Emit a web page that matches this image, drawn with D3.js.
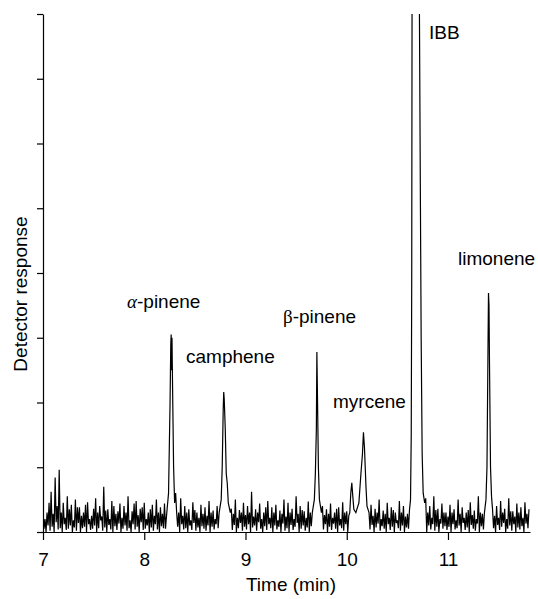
<!DOCTYPE html>
<html>
<head>
<meta charset="utf-8">
<script src="https://cdn.jsdelivr.net/npm/d3@7"></script>
<style>
  body { margin: 0; background: #fff; }
  text { font-family: "Liberation Sans", Arial, sans-serif; fill: #000; }
</style>
</head>
<body>
<div id="chart"></div>
<script>
// baseline noise tops, sampled every 0.02 min from 7.00 min
var noiseStart = 7.0;
var noiseStep = 0.02;
var noise = [
  0.35,0.20,0.30,0.45,0.62,0.28,0.84,0.40,0.96,0.30,0.45,0.22,0.55,0.35,0.42,0.18,0.50,0.38,0.38,0.25,
  0.30,0.42,0.46,0.20,0.25,0.36,0.52,0.30,0.40,0.24,0.70,0.33,0.35,0.20,0.48,0.40,0.28,0.32,0.44,0.22,
  0.40,0.30,0.55,0.18,0.32,0.44,0.48,0.26,0.36,0.38,0.45,0.20,0.30,0.35,0.42,0.25,0.50,0.30,0.38,0.28,
  0.44,0.12,0.30,0.30,0.30,0.30,0.30,0.30,0.52,0.25,0.40,0.30,0.35,0.18,0.46,0.34,0.30,0.22,0.42,0.28,
  0.38,0.25,0.48,0.30,0.33,0.20,0.40,0.30,0.30,0.30,0.30,0.30,0.30,0.36,0.28,0.50,0.22,0.34,0.30,0.45,
  0.26,0.40,0.30,0.62,0.24,0.35,0.30,0.44,0.20,0.30,0.38,0.48,0.22,0.38,0.30,0.42,0.18,0.33,0.28,0.50,
  0.24,0.45,0.30,0.36,0.20,0.55,0.28,0.40,0.34,0.32,0.22,0.47,0.30,0.30,0.30,0.30,0.30,0.30,0.40,0.26,
  0.35,0.28,0.44,0.22,0.30,0.36,0.38,0.20,0.46,0.30,0.32,0.25,0.30,0.30,0.30,0.30,0.30,0.30,0.30,0.30,
  0.30,0.30,0.42,0.25,0.36,0.30,0.50,0.20,0.33,0.28,0.45,0.22,0.38,0.34,0.30,0.18,0.48,0.30,0.40,0.24,
  0.28,0.30,0.30,0.30,0.30,0.30,0.30,0.30,0.30,0.52,0.30,0.40,0.22,0.55,0.34,0.36,0.20,0.44,0.30,0.30,
  0.24,0.42,0.30,0.35,0.18,0.50,0.28,0.38,0.22,0.30,0.34,0.46,0.26,0.33,0.20,0.55,0.30,0.28,0.30,0.30,
  0.30,0.30,0.30,0.25,0.40,0.22,0.48,0.30,0.36,0.20,0.52,0.32,0.32,0.24,0.44,0.30,0.38,0.22,0.46,0.28,
  0.35
];
// troughs in between, every 0.02 min from 7.01 min
var noiseMidStart = 7.01;
var noiseMid = [
  0.05,0.00,0.10,0.02,0.08,0.00,0.15,0.04,0.06,0.00,0.12,0.03,0.05,0.10,0.00,0.07,0.02,0.14,0.00,0.06,
  0.08,0.00,0.12,0.03,0.05,0.10,0.00,0.06,0.18,0.02,0.07,0.00,0.11,0.04,0.00,0.09,0.03,0.13,0.00,0.05,
  0.10,0.02,0.06,0.00,0.12,0.04,0.08,0.00,0.15,0.03,0.05,0.10,0.00,0.07,0.02,0.12,0.04,0.00,0.09,0.06,
  0.05,0.10,0.10,0.10,0.10,0.10,0.08,0.00,0.12,0.04,0.06,0.00,0.10,0.03,0.14,0.02,0.07,0.00,0.09,0.05,
  0.02,0.10,0.00,0.08,0.04,0.12,0.06,0.10,0.10,0.10,0.10,0.10,0.10,0.03,0.11,0.00,0.06,0.14,0.02,0.08,
  0.04,0.12,0.00,0.07,0.10,0.02,0.15,0.05,0.00,0.09,0.03,0.12,0.06,0.00,0.10,0.04,0.08,0.00,0.13,0.02,
  0.06,0.00,0.11,0.03,0.08,0.14,0.00,0.05,0.10,0.02,0.07,0.00,0.09,0.10,0.10,0.10,0.10,0.10,0.04,0.12,
  0.00,0.08,0.03,0.13,0.05,0.00,0.10,0.06,0.02,0.12,0.00,0.10,0.10,0.10,0.10,0.10,0.10,0.10,0.10,0.10,
  0.10,0.04,0.11,0.00,0.07,0.13,0.02,0.09,0.05,0.00,0.12,0.03,0.08,0.00,0.14,0.06,0.02,0.10,0.00,0.07,
  0.05,0.10,0.10,0.10,0.10,0.10,0.10,0.10,0.10,0.00,0.10,0.04,0.12,0.02,0.08,0.00,0.13,0.05,0.09,0.03,
  0.08,0.00,0.12,0.04,0.06,0.10,0.00,0.14,0.03,0.07,0.00,0.11,0.05,0.02,0.13,0.00,0.09,0.04,0.10,0.10,
  0.10,0.10,0.06,0.00,0.11,0.03,0.08,0.14,0.00,0.05,0.10,0.02,0.12,0.00,0.07,0.04,0.09,0.00,0.13,0.06
];

// peaks as [time (min), response]
var alphaPinene = [[8.22,0.25],[8.24,0.6],[8.255,2.0],[8.262,2.9],[8.266,3.05],[8.27,2.5],[8.274,3.0],[8.28,2.2],[8.29,1.0],[8.30,0.45],[8.31,0.6],[8.32,0.3]];
var camphene = [[8.74,0.3],[8.76,0.5],[8.77,1.0],[8.78,1.9],[8.785,2.16],[8.79,2.05],[8.80,1.6],[8.81,0.9],[8.82,0.75],[8.83,0.45],[8.85,0.3]];
var betaPinene = [[9.66,0.3],[9.68,0.5],[9.69,0.9],[9.70,1.6],[9.705,2.78],[9.71,2.2],[9.72,1.0],[9.73,0.5],[9.75,0.3]];
var myrcene = [[10.03,0.3],[10.04,0.6],[10.05,0.76],[10.06,0.55],[10.07,0.35],[10.09,0.3],[10.12,0.45],[10.14,0.9],[10.155,1.2],[10.165,1.54],[10.175,1.3],[10.19,0.7],[10.20,0.4],[10.22,0.3]];
var ibb = [[10.62,0.35],[10.63,0.5],[10.637,1.5],[10.642,4],[10.645,8],[10.65,14],[10.68,60],[10.71,14],[10.718,8],[10.728,5],[10.735,3],[10.745,1.2],[10.755,0.6],[10.77,0.45]];
var limonene = [[11.36,0.3],[11.375,0.5],[11.385,1.0],[11.395,2.8],[11.40,3.69],[11.405,3.5],[11.41,2.6],[11.42,1.0],[11.43,0.55],[11.44,0.35]];

var peaks = [alphaPinene, camphene, betaPinene, myrcene, ibb, limonene];

var labels = [
  {name: "pinene", greek: "\u03b1", x: 127, y: 308, italic: true},
  {name: "camphene", x: 186, y: 363},
  {name: "pinene", greek: "\u03b2", x: 283, y: 323},
  {name: "myrcene", x: 333, y: 408},
  {name: "IBB", x: 429, y: 39},
  {name: "limonene", x: 458, y: 265}
];

var xTicks = [7, 8, 9, 10, 11];
var yTicks = [0, 1, 2, 3, 4, 5, 6, 7, 8];

var W = 538, H = 599;
var mLeft = 43, mRight = 530, mTop = 14, mBottom = 532;

var x = d3.scaleLinear().domain([7, 11.81]).range([mLeft, mRight]);
var y = d3.scaleLinear().domain([0, 8]).range([mBottom, mTop]);

// merge noise with peaks, peaks replace the noise within their window
var series = noise.map(function (v, i) { return [noiseStart + i * noiseStep, v]; })
  .concat(noiseMid.map(function (v, i) { return [noiseMidStart + i * noiseStep, v]; }))
  .filter(function (d) {
    return !peaks.some(function (p) { return d[0] >= p[0][0] - 1e-9 && d[0] <= p[p.length - 1][0] + 1e-9; });
  });
peaks.forEach(function (p) { series = series.concat(p); });
series.sort(function (a, b) { return a[0] - b[0]; });

var svg = d3.select("#chart").append("svg")
  .attr("width", W)
  .attr("height", H);

svg.append("clipPath").attr("id", "plotclip")
  .append("rect")
  .attr("x", mLeft).attr("y", mTop)
  .attr("width", mRight - mLeft).attr("height", mBottom - mTop);

var line = d3.line()
  .x(function (d) { return x(d[0]); })
  .y(function (d) { return y(d[1]); });

svg.append("path")
  .datum(series)
  .attr("clip-path", "url(#plotclip)")
  .attr("fill", "none")
  .attr("stroke", "#000")
  .attr("stroke-width", 1.2)
  .attr("stroke-linejoin", "miter")
  .attr("d", line);

// y axis, ticks only
var yAxis = svg.append("g")
  .attr("transform", "translate(" + mLeft + ",0)")
  .call(d3.axisLeft(y).tickValues(yTicks).tickSize(6).tickSizeOuter(0).tickFormat(""));

// x axis
var xAxis = svg.append("g")
  .attr("transform", "translate(0," + mBottom + ")")
  .call(d3.axisBottom(x).tickValues(xTicks).tickSize(8).tickSizeOuter(0).tickFormat(d3.format("d")));

svg.selectAll(".domain, .tick line").attr("stroke", "#000").attr("stroke-width", 1.2);
xAxis.selectAll("text")
  .attr("y", 34)
  .attr("dy", null)
  .style("font-size", "19px")
  .style("font-family", "'Liberation Sans', Arial, sans-serif")
  .attr("fill", "#000");

svg.append("text")
  .attr("x", 291)
  .attr("y", 591)
  .attr("text-anchor", "middle")
  .style("font-size", "19px")
  .text("Time (min)");

svg.append("text")
  .attr("transform", "translate(27,294) rotate(-90)")
  .attr("text-anchor", "middle")
  .style("font-size", "19px")
  .text("Detector response");

// peak labels
labels.forEach(function (l) {
  var t = svg.append("text")
    .attr("x", l.x)
    .attr("y", l.y)
    .style("font-size", "19px");
  if (l.greek) {
    t.append("tspan")
      .style("font-family", "'Liberation Serif', 'Times New Roman', serif")
      .style("font-style", l.italic ? "italic" : "normal")
      .text(l.greek);
    t.append("tspan").text("-" + l.name);
  } else {
    t.text(l.name);
  }
});
</script>
</body>
</html>
